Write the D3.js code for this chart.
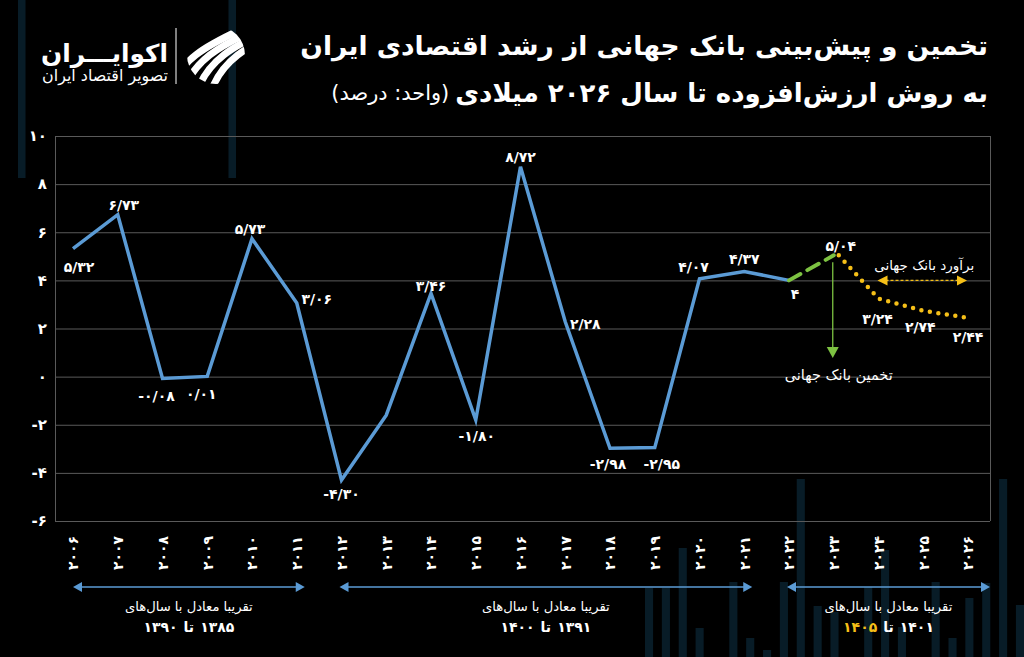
<!DOCTYPE html>
<html>
<head>
<meta charset="utf-8">
<script src="https://cdn.jsdelivr.net/npm/d3@7"></script>
<style>
body{margin:0;background:#000;}
text{font-family:"DejaVu Sans",sans-serif;fill:#fff;}
</style>
</head>
<body>
<div id="chartDiv"></div>
<script>
// data
let years = ["2006","2007","2008","2009","2010","2011","2012","2013","2014","2015","2016",
             "2017","2018","2019","2020","2021","2022","2023","2024","2025","2026"];
let growth = [5.32,6.73,-0.08,0.01,5.73,3.06,-4.30,-1.6,3.46,-1.80,8.72,
              2.28,-2.98,-2.95,4.07,4.37,4,5.04,3.24,2.74,2.44];
let labels = ["5/32","6/73","-0/08","0/01","5/73","3/06","-4/30","","3/46","-1/80","8/72",
              "2/28","-2/98","-2/95","4/07","4/37","4","5/04","3/24","2/74","2/44"];
let yTicks = [-6,-4,-2,0,2,4,6,8,10];
let periodFrom = ["2006","2012","2022"];
let periodTo = ["2011","2021","2026"];
let periodLine1 = ["تقریبا معادل با سال‌های","تقریبا معادل با سال‌های","تقریبا معادل با سال‌های"];
let periodStart = ["1385","1391","1401"];
let periodEnd = ["1390","1400","1405"];
// decoration bars in the background (heights in px)
let decoBottom = [69,69,109,29,0,75,19,7,75,178,51,45,0,70,107,30,0,75,19,59,74,178,52];
let decoTop = [178,0,0,0,0,0,0,0,0,0,0,0,0,0,178];

const fa = s => String(s).replace(/\d/g, c => "۰۱۲۳۴۵۶۷۸۹"[c]);

let width = 1024, height = 657;
let svg = d3.select("#chartDiv").append("svg").attr("width", width).attr("height", height)
  .style("background", "#000").style("display","block");

// background decoration
let decoX = d3.scaleBand().domain(d3.range(decoBottom.length)).range([645, 1024]).paddingInner(0.52);
svg.append("g").selectAll("rect").data(decoBottom).enter().append("rect")
  .attr("x", (d,i) => decoX(i)).attr("width", decoX.bandwidth())
  .attr("y", d => height - d).attr("height", d => d)
  .attr("fill", "#081c27");
let decoTX = d3.scaleBand().domain(d3.range(decoTop.length)).range([18, 236]).paddingInner(0.5);
svg.append("g").selectAll("rect").data(decoTop).enter().append("rect")
  .attr("x", (d,i) => decoTX(i)).attr("width", decoTX.bandwidth())
  .attr("y", 0).attr("height", d => d)
  .attr("fill", "#081c27");

let pLeft = 55, pRight = 990, pTop = 136, pBottom = 521;
let scaleX = d3.scalePoint().domain(years).range([73, 968]);
let scaleY = d3.scaleLinear().domain([-6, 10]).range([pBottom, pTop]);

// grid
let grid = svg.append("g");
grid.selectAll("line").data(yTicks).enter().append("line")
  .attr("x1", pLeft).attr("x2", pRight)
  .attr("y1", d => scaleY(d) + 0.5).attr("y2", d => scaleY(d) + 0.5)
  .style("stroke", "#5a5a5a").style("stroke-width", 1);
grid.append("line").attr("x1", pLeft+0.5).attr("x2", pLeft+0.5).attr("y1", pTop).attr("y2", pBottom)
  .style("stroke", "#5a5a5a");
grid.append("line").attr("x1", pRight+0.5).attr("x2", pRight+0.5).attr("y1", pTop).attr("y2", pBottom)
  .style("stroke", "#5a5a5a");

// axes
let axisY = d3.axisLeft(scaleY).tickValues(yTicks).tickSize(0).tickPadding(6).tickFormat(d => fa(d));
let gy = svg.append("g").attr("transform", "translate(" + (pLeft - 2) + ",0)").call(axisY);
gy.select(".domain").remove();
gy.selectAll("text").style("font-size", "15px").style("font-weight", "bold").attr("fill", "#fff");

let axisX = d3.axisBottom(scaleX).tickSize(0).tickFormat(d => fa(d));
let gx = svg.append("g").attr("transform", "translate(0," + pBottom + ")").call(axisX);
gx.select(".domain").remove();
gx.selectAll("text")
  .attr("transform", "rotate(-90)")
  .attr("x", -32).attr("y", 0).attr("dy", "0.35em")
  .style("text-anchor", "middle").style("font-size", "14px").style("font-weight", "bold")
  .attr("fill", "#fff");

// lines
let pts = years.map((y, i) => [scaleX(y), scaleY(growth[i])]);
let line = d3.line();
svg.append("path").attr("d", line(pts.slice(0, 17)))
  .attr("fill", "none").style("stroke", "#5b9bd5").style("stroke-width", 3.5)
  .style("stroke-linejoin", "miter");
svg.append("path").attr("d", line(pts.slice(16, 18)))
  .attr("fill", "none").style("stroke", "#7dc242").style("stroke-width", 4)
  .style("stroke-dasharray", "13,8").style("stroke-linecap", "round");
svg.append("path").attr("d", line([[pts[17][0] + 5, pts[17][1]]].concat(pts.slice(18))))
  .attr("fill", "none").style("stroke", "#f5bf18").style("stroke-width", 4.5)
  .style("stroke-dasharray", "0,8.6").style("stroke-linecap", "round");

// value labels
let labelOff = [[6,18],[6,-10],[-6,18],[-6,18],[-2,-10],[20,-4],[0,14],[0,0],[0,-7],[1,16],[0,-10],
                [20,2],[-2,16],[7,16],[-6,-12],[0,-12],[6,14],[7,-9],[-1,20],[-3,16],[0,19]];
svg.append("g").selectAll("text").data(labels).enter().append("text")
  .attr("x", (d,i) => pts[i][0] + labelOff[i][0])
  .attr("y", (d,i) => pts[i][1] + labelOff[i][1])
  .attr("dy", "0.35em").attr("text-anchor", "middle")
  .style("font-size", "14px").style("font-weight", "bold")
  .text(d => fa(d));

function fitText(sel, w) {
  let cur = sel.node().getComputedTextLength();
  let fs = parseFloat(sel.style("font-size"));
  sel.style("font-size", (fs * w / cur) + "px");
}

// world bank annotations
let yel = "#f5bf18", grn = "#7dc242";
let ax0 = scaleX("2024") - 1, ax1 = scaleX("2026") - 1, ay = scaleY(4);
svg.append("line").attr("x1", ax0 + 8).attr("x2", ax1 - 8).attr("y1", ay).attr("y2", ay)
  .style("stroke", yel).style("stroke-width", 1.3).style("stroke-dasharray", "3,2");
svg.append("path").attr("d", "M" + ax0 + "," + ay + "l10,-5v10z").attr("fill", yel);
svg.append("path").attr("d", "M" + ax1 + "," + ay + "l-10,-5v10z").attr("fill", yel);
let ann1 = svg.append("text").attr("x", (ax0 + ax1) / 2 + 2).attr("y", ay - 15).attr("dy", "0.35em")
  .attr("text-anchor", "middle").style("font-size", "14px").text("برآورد بانک جهانی");
fitText(ann1, 100);

let gx0 = scaleX("2023") - 1;
svg.append("line").attr("x1", gx0).attr("x2", gx0).attr("y1", scaleY(5.04) + 7).attr("y2", 350)
  .style("stroke", grn).style("stroke-width", 1.3);
svg.append("path").attr("d", "M" + gx0 + ",358l-6,-11h12z").attr("fill", grn);
let ann2 = svg.append("text").attr("x", gx0 + 6).attr("y", 375).attr("dy", "0.35em")
  .attr("text-anchor", "middle").style("font-size", "14px").text("تخمین بانک جهانی");
fitText(ann2, 108);

// period arrows
let blue = "#5b9bd5";
periodFrom.forEach((p, i) => {
  let x0 = scaleX(p) + (i == 0 ? 0 : -2);
  let x1 = scaleX(periodTo[i]) + (i == 0 ? 8 : (i == 1 ? 8 : 22));
  let yy = 587;
  let g = svg.append("g");
  g.append("line").attr("x1", x0 + 6).attr("x2", x1 - 6).attr("y1", yy).attr("y2", yy)
    .style("stroke", blue).style("stroke-width", 1.5);
  g.append("path").attr("d", "M" + x0 + "," + yy + "l9,-5v10z").attr("fill", blue);
  g.append("path").attr("d", "M" + x1 + "," + yy + "l-9,-5v10z").attr("fill", blue);
  let cx = (x0 + x1) / 2;
  let l1 = g.append("text").attr("x", cx).attr("y", 606).attr("dy", "0.35em").attr("text-anchor", "middle")
    .style("font-size", "15px").text(periodLine1[i]);
  fitText(l1, 128);
  // second line, right to left: start - "تا" - end (end in yellow for the forecast period)
  let parts = [fa(periodEnd[i]), "تا", fa(periodStart[i])];
  let cols = [i == 2 ? "#f5bf18" : "#fff", "#fff", "#fff"];
  let ts = parts.map((s, k) => g.append("text").attr("y", 627).attr("dy", "0.35em")
    .attr("text-anchor", "start").style("font-size", "14px").style("font-weight", "bold")
    .style("fill", cols[k]).text(s));
  let ws = ts.map(t => t.node().getComputedTextLength()), gap = 6;
  let sx = cx - (d3.sum(ws) + 2 * gap) / 2;
  ts.forEach((t, k) => { t.attr("x", sx); sx += ws[k] + gap; });
});

// title
let title1 = svg.append("text").attr("x", 988).attr("y", 55).attr("text-anchor", "end")
  .style("font-size", "26px").style("font-weight", "bold")
  .text("تخمین و پیش‌بینی بانک جهانی از رشد اقتصادی ایران");
fitText(title1, 688);
let title2 = svg.append("text").attr("x", 988).attr("y", 102).attr("text-anchor", "end")
  .style("font-size", "26px").style("font-weight", "bold")
  .text("به روش ارزش‌افزوده تا سال ۲۰۲۶ میلادی");
fitText(title2, 533);
let t2w = title2.node().getComputedTextLength();
let unit = svg.append("text").attr("x", 988 - t2w - 6).attr("y", 100).attr("text-anchor", "end")
  .style("font-size", "14px").text("(واحد: درصد)");
fitText(unit, 118);

// logo
let logo = svg.append("g");
logo.append("clipPath").attr("id", "lc").append("circle").attr("cx", 216).attr("cy", 55).attr("r", 29);
let ic = logo.append("g").attr("clip-path", "url(#lc)");
[-22, -8, 6, 20].forEach(o => {
  ic.append("path")
    .attr("d", "M" + (190 + o) + ",95 C" + (200 + o) + ",60 " + (230 + o) + ",45 " + (262 + o) + ",30")
    .attr("fill", "none").style("stroke", "#fff").style("stroke-width", 7);
});
logo.append("line").attr("x1", 176).attr("x2", 176).attr("y1", 28).attr("y2", 84)
  .style("stroke", "#fff").style("stroke-width", 1);
let lt = logo.append("text").attr("x", 168).attr("y", 62).attr("text-anchor", "end")
  .style("font-size", "30px").style("font-weight", "bold").text("اکوایـــران");
fitText(lt, 127);
let ls = logo.append("text").attr("x", 168).attr("y", 81).attr("text-anchor", "end")
  .style("font-size", "12px").text("تصویر اقتصاد ایران");
fitText(ls, 126);
</script>
</body>
</html>
